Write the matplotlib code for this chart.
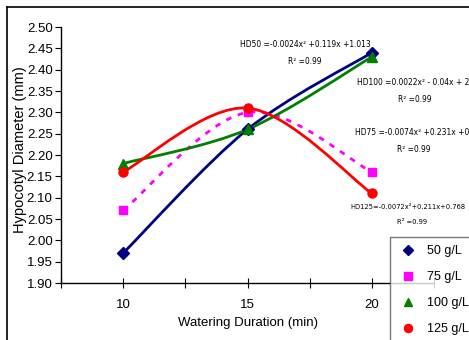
import numpy as np
import matplotlib
matplotlib.use("Agg")
from matplotlib import pyplot as plt
from matplotlib import font_manager
from matplotlib.path import Path
from matplotlib.patches import PathPatch
from matplotlib.lines import Line2D

plt.rcParams['font.family'] = ['Liberation Sans', 'DejaVu Sans']

duration = [10, 15, 20]
d50 = [1.97, 2.26, 2.44]
d75 = [2.07, 2.30, 2.16]
d100 = [2.18, 2.26, 2.43]
d125 = [2.16, 2.31, 2.11]
labels = ["50 g/L", "75 g/L", "100 g/L", "125 g/L"]
eq50 = "HD50 =-0.0024x² +0.119x +1.013"
eq75 = "HD75 =-0.0074x² +0.231x +0.51"
eq100 = "HD100 =0.0022x² - 0.04x + 2.358"
eq125 = "HD125=-0.0072x²+0.211x+0.768"
r2 = "R² =0.99"


def smooth_path(x, y):
    # excel style smoothed line: bezier segments through the points
    p = np.column_stack([x, y]).astype(float)
    n = len(p)
    verts = [p[0]]
    codes = [Path.MOVETO]
    for i in range(n - 1):
        prev = p[i - 1] if i > 0 else p[i]
        nxt = p[i + 2] if i + 2 < n else p[i + 1]
        c1 = p[i] + (p[i + 1] - prev) / 6
        c2 = p[i + 1] - (nxt - p[i]) / 6
        verts += [c1, c2, p[i + 1]]
        codes += [Path.CURVE4] * 3
    return Path(verts, codes)


# narrow font for the trendline equations if one is around
eq_font = dict(family=['Liberation Sans', 'DejaVu Sans'])
eq_size = 5.6
try:
    f = font_manager.findfont(font_manager.FontProperties(family='DejaVu Sans', stretch='condensed'),
                              fallback_to_default=False)
    if 'ondensed' in f:
        eq_font = dict(family=['DejaVu Sans'], fontstretch='condensed')
        eq_size = 6.0
except Exception:
    pass

fig = plt.figure(figsize=(4.69, 3.40), dpi=100)
ax = fig.add_axes([61 / 469, 1 - 283 / 340, 373 / 469, 256 / 340])

series = [
    (d50, "#000080", "D", "-", 6),
    (d75, "#FF00FF", "s", (0, (2, 2.5)), 6),
    (d100, "#008000", "^", "-", 7),
    (d125, "#FF0000", "o", "-", 6.5),
]
for (vals, col, mk, ls, ms), lab in zip(series, labels):
    ax.add_patch(PathPatch(smooth_path(duration, vals), fill=False,
                           edgecolor=col, lw=2, linestyle=ls, zorder=2))
    ax.plot(duration, vals, linestyle="none", marker=mk, color=col,
            markersize=ms, label=lab, zorder=3)

ax.set_xlim(7.5, 22.5)
ax.set_ylim(1.90, 2.50)
ax.set_yticks(np.arange(1.90, 2.501, 0.05))
ax.set_yticklabels(["%.2f" % v for v in np.arange(1.90, 2.501, 0.05)])
ax.set_xticks([7.5, 10, 12.5, 15, 17.5, 20, 22.5])
ax.set_xticklabels(["", "10", "", "15", "", "20", ""])
ax.tick_params(axis="y", direction="out", length=4, labelsize=9.5, pad=2)
ax.tick_params(axis="x", direction="inout", length=7, labelsize=9.5, pad=8)
for s in ["top", "right"]:
    ax.spines[s].set_visible(False)
ax.spines["left"].set_linewidth(1)
ax.spines["bottom"].set_linewidth(1)

ax.set_xlabel("Watering Duration (min)", fontsize=9.5, labelpad=4)
fig.text(20 / 469, 1 - 150 / 340, "Hypocotyl Diameter (mm)", rotation=90,
         ha="center", va="center", fontsize=10.5)

ax.text(17.31, 2.458, eq50, fontsize=eq_size, ha="center", va="center", **eq_font)
ax.text(17.31, 2.42, r2, fontsize=eq_size, ha="center", va="center", **eq_font)
ax.text(19.40, 2.369, eq100, fontsize=eq_size, ha="left", va="center", **eq_font)
ax.text(21.74, 2.329, r2, fontsize=eq_size, ha="center", va="center", **eq_font)
ax.text(19.32, 2.252, eq75, fontsize=eq_size, ha="left", va="center", **eq_font)
ax.text(21.70, 2.214, r2, fontsize=eq_size, ha="center", va="center", **eq_font)
ax.text(19.12, 2.078, eq125, fontsize=eq_size - 0.6, ha="left", va="center", **eq_font)
ax.text(21.62, 2.043, r2, fontsize=eq_size - 0.6, ha="center", va="center", **eq_font)

leg = fig.legend(loc="upper left", bbox_to_anchor=(390 / 469, 1 - 237 / 340),
                 fontsize=9, frameon=True, fancybox=False, edgecolor="#555555",
                 handlelength=1.6, handletextpad=0.7, labelspacing=1.12,
                 borderpad=0.65, borderaxespad=0, markerscale=0.9)
leg.get_frame().set_linewidth(1)

# outer chart border
fig.add_artist(Line2D([7 / 469, 7 / 469], [0, 1 - 7 / 340], color="black", lw=1.2))
fig.add_artist(Line2D([7 / 469, 1], [1 - 7 / 340, 1 - 7 / 340], color="black", lw=1.2))

fig.savefig("out.png", dpi=100)
